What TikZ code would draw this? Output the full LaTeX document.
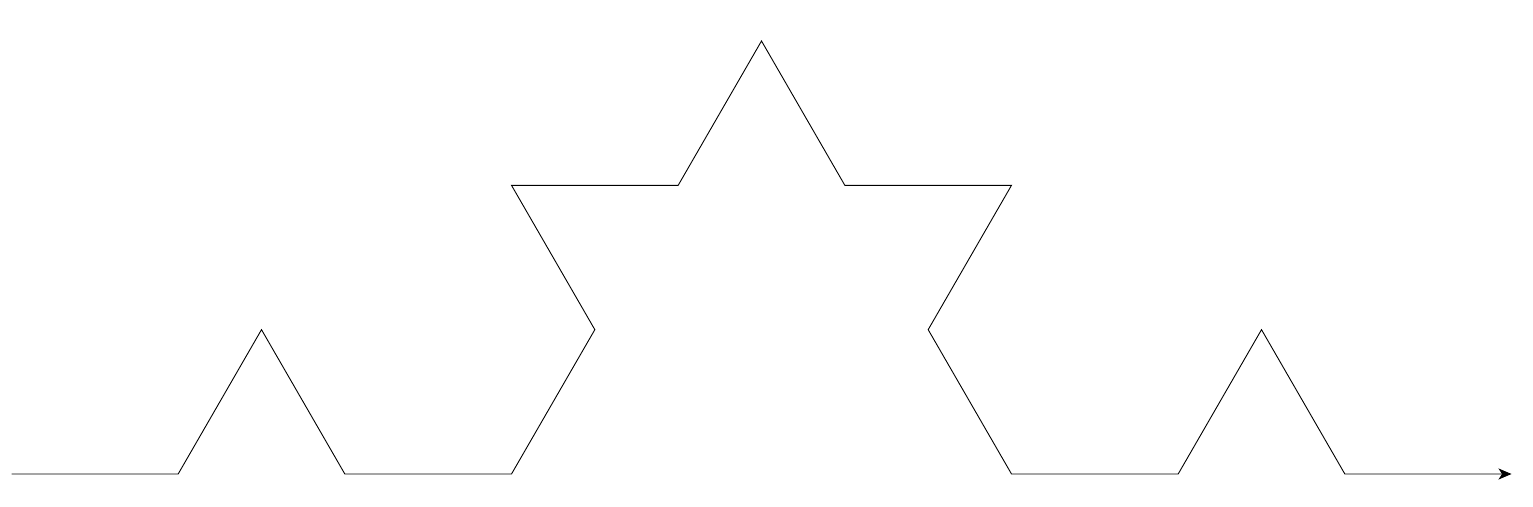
\documentclass[tikz,border=0pt]{standalone}
\usetikzlibrary{arrows.meta}
\begin{document}
\begin{tikzpicture}[x=1pt,y=1pt,
  koch/.style={line width=0.9pt, line join=miter, -{Stealth[length=13pt,width=11pt,inset=3.5pt]}}]
\useasboundingbox (0,0) rectangle (1533,506);
\def\s{166.667}
\coordinate (start) at (11.5,32);
\draw[koch] (start)
  -- ++(0:\s) -- ++(60:\s) -- ++(-60:\s) -- ++(0:\s)
  -- ++(60:\s) -- ++(120:\s) -- ++(0:\s) -- ++(60:\s)
  -- ++(-60:\s) -- ++(0:\s) -- ++(-120:\s) -- ++(-60:\s)
  -- ++(0:\s) -- ++(60:\s) -- ++(-60:\s) -- ++(0:\s);
\end{tikzpicture}
\end{document}
